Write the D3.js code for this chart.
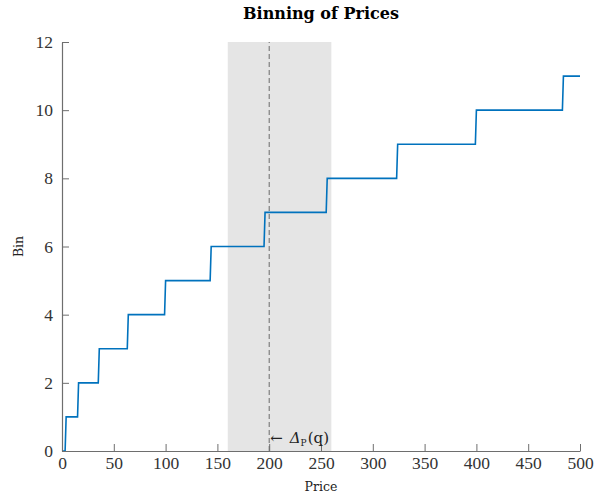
<!DOCTYPE html>
<html><head><meta charset="utf-8">
<script src="https://cdn.jsdelivr.net/npm/d3@7"></script>
<style>
body{margin:0;background:#fff;}
text{font-family:"Liberation Serif","DejaVu Serif",serif;}
</style></head>
<body>
<svg id="c" width="594" height="496"></svg>
<script>
// Data
const binEdges = [0, 4, 16, 36, 64, 100, 144, 196, 256, 324, 400, 484, 500];
const binValues = [0, 1, 2, 3, 4, 5, 6, 7, 8, 9, 10, 11];
const xTicks = [0, 50, 100, 150, 200, 250, 300, 350, 400, 450, 500];
const yTicks = [0, 2, 4, 6, 8, 10, 12];
const bandRange = [160, 260];
const markerPrice = 200;

const svg = d3.select("#c");
const m = {l:62, r:14, t:42, b:45};
const W = 594, H = 496;
const x = d3.scaleLinear().domain([0,500]).range([m.l, W-m.r]);
const y = d3.scaleLinear().domain([0,12]).range([H-m.b, m.t]);
const dv = '"DejaVu Serif",serif';
const lib = '"Liberation Serif","DejaVu Serif",serif';

// band
svg.append("rect")
  .attr("x", x(bandRange[0])).attr("y", y(12))
  .attr("width", x(bandRange[1]) - x(bandRange[0]))
  .attr("height", y(0) - y(12))
  .attr("fill", "#e5e5e5");

// dashed line
svg.append("line")
  .attr("x1", x(markerPrice)).attr("x2", x(markerPrice))
  .attr("y1", y(0)).attr("y2", y(12))
  .attr("stroke", "#6b6b6b").attr("stroke-width", 1)
  .attr("stroke-dasharray", "5,3");

// step points (sampled at unit price)
const pts = [];
binValues.forEach((v, i) => {
  const a = binEdges[i], b = binEdges[i+1];
  pts.push([a, v]);
  pts.push([i === binValues.length - 1 ? b : b - 1, v]);
});
svg.append("path")
  .datum(pts)
  .attr("d", d3.line().x(d => x(d[0])).y(d => y(d[1])))
  .attr("fill", "none").attr("stroke", "#0072BD").attr("stroke-width", 1.6);

// axes
const axCol = "#6e6e6e";
const xAxis = svg.append("g").attr("transform", `translate(0,${y(0)})`)
  .call(d3.axisBottom(x).tickValues(xTicks).tickSizeInner(-7).tickSizeOuter(0).tickPadding(6));
const yAxis = svg.append("g").attr("transform", `translate(${x(0)},0)`)
  .call(d3.axisLeft(y).tickValues(yTicks).tickSizeInner(-7).tickSizeOuter(0).tickPadding(9));
[xAxis, yAxis].forEach(g => {
  g.select(".domain").attr("stroke", axCol).attr("stroke-width", 1.2);
  g.selectAll(".tick line").attr("stroke", axCol).attr("stroke-width", 1);
  g.selectAll(".tick text").attr("fill", "#333").style("font-size", "17.5px")
   .style("font-family", lib);
});

// title
svg.append("text").attr("x", 321).attr("y", 19).attr("text-anchor", "middle")
  .style("font-size", "16px").style("font-weight", "bold").style("font-family", dv).attr("fill", "#000")
  .text("Binning of Prices");

// axis labels
svg.append("text").attr("x", 321).attr("y", 491).attr("text-anchor", "middle")
  .style("font-size", "12.5px").style("font-family", dv).attr("fill", "#222").text("Price");
svg.append("text").attr("transform", `translate(22.5,${(y(0)+y(12))/2}) rotate(-90)`)
  .attr("text-anchor", "middle").style("font-size", "12.5px").style("font-family", dv).attr("fill", "#222").text("Bin");

// annotation
const ann = svg.append("text").attr("x", x(markerPrice) + 1).attr("y", y(0) - 8)
  .style("font-size", "15px").style("font-family", dv).attr("fill", "#222");
ann.append("tspan").text("←");
ann.append("tspan").attr("dx", 7).style("font-style", "italic").text("Δ");
ann.append("tspan").attr("dy", 3).style("font-size", "9px").text("P");
ann.append("tspan").attr("dy", -3).attr("dx", 1).text("(q)");
</script>
</body></html>
